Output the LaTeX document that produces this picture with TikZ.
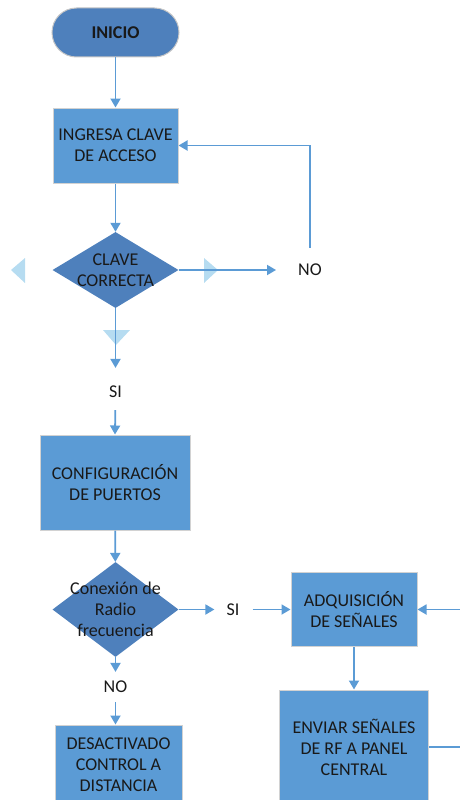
\documentclass[tikz,border=0pt]{standalone}
\usepackage{fontspec}
\setmainfont{Carlito}
\usetikzlibrary{shapes.geometric,shapes.misc,arrows.meta}

\definecolor{cajaazul}{HTML}{5B9BD5}
\definecolor{rombazul}{HTML}{4E80BC}
\definecolor{lineazul}{HTML}{5B9BD5}
\definecolor{palido}{HTML}{A9D6EE}

\tikzset{
  caja/.style={rectangle, fill=cajaazul, draw=gray!35, line width=1pt,
    align=center, inner sep=0pt, text=black!90},
  inicio/.style={rounded rectangle, fill=rombazul, draw=gray!45, line width=1pt,
    minimum width=127pt, minimum height=49pt, inner sep=0pt,
    font=\fontsize{18}{21}\selectfont\bfseries, text=black!90},
  decision/.style={diamond, fill=rombazul, inner sep=0pt,
    minimum width=126pt, minimum height=76pt},
  etiqueta/.style={inner sep=0pt, align=center, text=black!90},
  conector/.style={draw=lineazul, line width=1.8pt,
    -{Triangle[length=9pt,width=10pt]}},
  linea/.style={draw=lineazul, line width=1.8pt},
  marca/.style={fill=palido, opacity=0.85}
}

\begin{document}
\begin{tikzpicture}[x=1pt,y=-1pt,font=\fontsize{18}{21}\selectfont]

            \useasboundingbox (0,0) rectangle (460,800);
            \clip (0,0) rectangle (460,800);

            % Inicio y clave
            \node[inicio] (ini) at (115.5,32.5) {INICIO};
            \node[caja, minimum width=125pt, minimum height=75pt] (ingresa) at (115.5,145.5) {INGRESA CLAVE\\DE ACCESO};

            % Marcas claras alrededor del rombo
            \fill[marca] (11,270) -- (25,258) -- (25,283) -- cycle;
            \fill[marca] (218,270) -- (204,258) -- (204,283) -- cycle;
            \fill[marca] (116,345) -- (103,330) -- (130,330) -- cycle;

            \node[decision] (clave) at (115.5,270) {};
            \node[etiqueta] at (clave) {CLAVE\\CORRECTA};
            \node[etiqueta] (no1) at (310,270) {NO};
            \node[etiqueta] (si1) at (115.5,392) {SI};

            % Puertos y radio frecuencia
            \node[caja, minimum width=150pt, minimum height=95pt] (config) at (115,482.5) {CONFIGURACIÓN\\DE PUERTOS};
            \node[decision, minimum height=95pt] (radio) at (115.5,609.5) {};
            \node[etiqueta] at (radio) {Conexión de\\Radio\\frecuencia};
            \node[etiqueta] (si2) at (233,609.5) {SI};
            \node[etiqueta] (no2) at (115.5,687) {NO};

            \node[caja, minimum width=127pt, minimum height=80pt] (desact) at (118.5,765) {DESACTIVADO\\CONTROL A\\DISTANCIA};
            \node[caja, minimum width=126pt, minimum height=74pt] (adq) at (354,609.5) {ADQUISICIÓN\\DE SEÑALES};
            \node[caja, minimum width=149pt, minimum height=114pt] (enviar) at (354,747) {ENVIAR SEÑALES\\DE RF A PANEL\\CENTRAL};

            \coordinate (der1) at (460,609.5);
            \coordinate (der2) at (460,747);

            % Conectores
            \draw[conector] (ini) -- (ingresa);
            \draw[conector] (ingresa) -- (clave);
            \draw[conector, shorten >=22pt] (clave.east) -- (no1.west);
            \draw[conector, shorten <=16pt] (no1.north) |- (ingresa.east);
            \draw[conector, shorten >=18pt] (clave.south) -- (si1.north);
            \draw[conector, shorten <=12pt] (si1.south) -- (config.north);
            \draw[conector] (config) -- (radio);
            \draw[conector, shorten >=12pt] (radio.east) -- (si2.west);
            \draw[conector, shorten <=13pt] (si2.east) -- (adq.west);
            \draw[conector, shorten >=9pt] (radio.south) -- (no2.north);
            \draw[conector, shorten <=9pt] (no2.south) -- (no2.south |- desact.north);
            \draw[conector] (der1) -- (adq.east);
            \draw[conector] (adq) -- (enviar);
            \draw[linea] (enviar.east |- der2) -- (der2);

        \end{tikzpicture}
\end{document}
